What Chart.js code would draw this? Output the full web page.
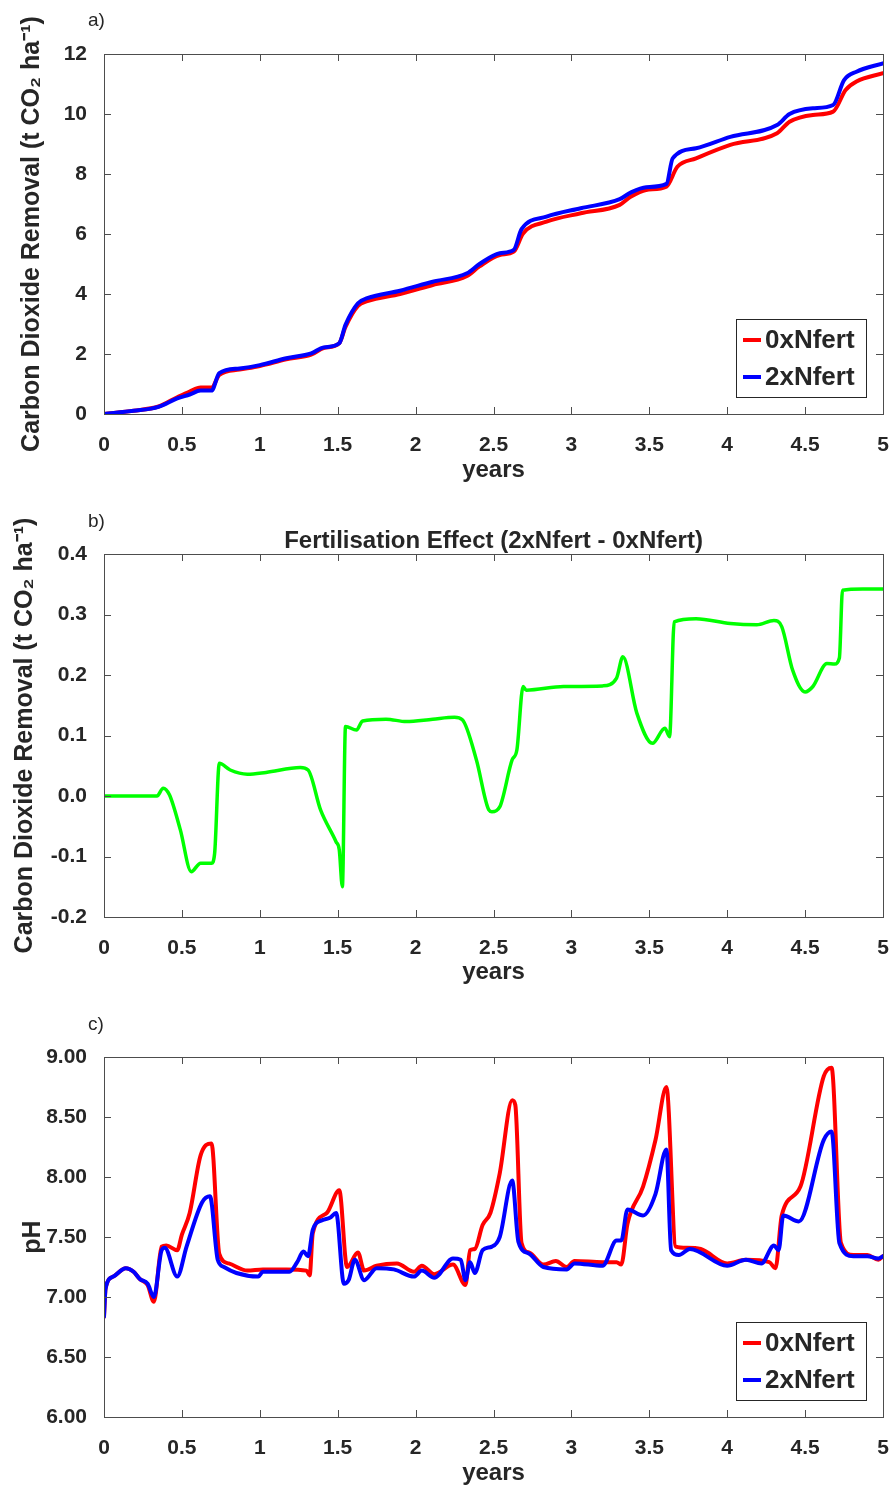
<!DOCTYPE html>
<html>
<head>
<meta charset="utf-8">
<script src="https://cdn.jsdelivr.net/npm/chart.js@4"></script>
<style>
  body { margin:0; background:#fff; }
  .panel { position:absolute; left:0; }
</style>
</head>
<body>
<canvas id="chartA" class="panel" width="893" height="495" style="top:0"></canvas>
<canvas id="chartB" class="panel" width="893" height="500" style="top:495px"></canvas>
<canvas id="chartC" class="panel" width="893" height="493" style="top:995px"></canvas>
<script>
// ---------- data ----------
const xTicks = [0, 0.5, 1, 1.5, 2, 2.5, 3, 3.5, 4, 4.5, 5];
const xTickLabels = ["0", "0.5", "1", "1.5", "2", "2.5", "3", "3.5", "4", "4.5", "5"];

// a) cumulative CO2 removal
const aYTicks = [0, 2, 4, 6, 8, 10, 12];
const aYLabels = ["0", "2", "4", "6", "8", "10", "12"];
const aRedX = [0, 0.19, 0.35, 0.47, 0.55, 0.62, 0.69, 0.74, 0.87, 1.0, 1.17, 1.33, 1.41, 1.51, 1.55, 1.63, 1.69, 1.9, 2.11, 2.33, 2.41, 2.54, 2.63, 2.69, 2.84, 3.06, 3.31, 3.38, 3.48, 3.61, 3.68, 3.8, 4.02, 4.32, 4.4, 4.55, 4.68, 4.76, 4.83, 5.0];
const aRedY = [0, 0.11, 0.25, 0.56, 0.75, 0.88, 0.88, 1.3, 1.48, 1.6, 1.82, 1.98, 2.2, 2.36, 2.9, 3.6, 3.76, 4.0, 4.3, 4.6, 4.92, 5.3, 5.41, 6.02, 6.41, 6.69, 6.97, 7.24, 7.47, 7.58, 8.24, 8.52, 8.97, 9.36, 9.74, 9.97, 10.08, 10.8, 11.08, 11.36];
const aBlueX = [0, 0.19, 0.35, 0.47, 0.55, 0.62, 0.69, 0.74, 0.87, 1.0, 1.17, 1.33, 1.41, 1.51, 1.55, 1.63, 1.69, 1.9, 2.11, 2.33, 2.41, 2.54, 2.63, 2.68, 2.84, 3.06, 3.31, 3.38, 3.48, 3.61, 3.65, 3.8, 4.02, 4.32, 4.4, 4.55, 4.68, 4.75, 4.83, 5.0];
const aBlueY = [0, 0.11, 0.24, 0.52, 0.65, 0.78, 0.78, 1.36, 1.52, 1.63, 1.86, 2.02, 2.22, 2.36, 2.97, 3.69, 3.86, 4.11, 4.41, 4.69, 5.0, 5.36, 5.47, 6.16, 6.58, 6.86, 7.16, 7.38, 7.56, 7.67, 8.52, 8.86, 9.24, 9.63, 10.0, 10.19, 10.3, 11.13, 11.41, 11.69];

// b) fertilisation effect
const bYTicks = [-0.2, -0.1, 0, 0.1, 0.2, 0.3, 0.4];
const bYLabels = ["-0.2", "-0.1", "0.0", "0.1", "0.2", "0.3", "0.4"];
const bDiffX = [0, 0.34, 0.38, 0.42, 0.49, 0.56, 0.62, 0.69, 0.71, 0.74, 0.81, 0.92, 1.04, 1.26, 1.31, 1.39, 1.49, 1.51, 1.53, 1.55, 1.62, 1.66, 1.81, 1.94, 2.11, 2.25, 2.30, 2.39, 2.47, 2.49, 2.54, 2.62, 2.65, 2.69, 2.71, 2.95, 3.20, 3.29, 3.33, 3.42, 3.52, 3.60, 3.63, 3.66, 3.80, 4.02, 4.19, 4.30, 4.35, 4.42, 4.50, 4.55, 4.64, 4.69, 4.72, 4.74, 4.87, 5.0];
const bDiffY = [0, 0, 0.013, 0.002, -0.056, -0.125, -0.111, -0.111, -0.095, 0.054, 0.043, 0.036, 0.039, 0.047, 0.043, -0.023, -0.076, -0.089, -0.150, 0.115, 0.109, 0.124, 0.127, 0.123, 0.127, 0.130, 0.126, 0.060, -0.023, -0.026, -0.018, 0.060, 0.076, 0.181, 0.175, 0.181, 0.182, 0.195, 0.230, 0.137, 0.087, 0.112, 0.098, 0.288, 0.293, 0.285, 0.283, 0.290, 0.280, 0.208, 0.172, 0.181, 0.219, 0.218, 0.228, 0.340, 0.342, 0.342];

// c) pH
const cYTicks = [6, 6.5, 7, 7.5, 8, 8.5, 9];
const cYLabels = ["6.00", "6.50", "7.00", "7.50", "8.00", "8.50", "9.00"];
const cRedX = [0, 0.01, 0.06, 0.14, 0.19, 0.23, 0.28, 0.32, 0.37, 0.40, 0.47, 0.50, 0.55, 0.62, 0.69, 0.74, 0.80, 0.92, 1.02, 1.17, 1.30, 1.32, 1.34, 1.43, 1.51, 1.56, 1.63, 1.67, 1.75, 1.88, 1.99, 2.04, 2.12, 2.24, 2.32, 2.35, 2.38, 2.43, 2.48, 2.54, 2.62, 2.64, 2.68, 2.73, 2.82, 2.90, 2.97, 3.02, 3.20, 3.29, 3.32, 3.36, 3.46, 3.54, 3.61, 3.67, 3.74, 3.83, 4.00, 4.12, 4.27, 4.31, 4.35, 4.47, 4.62, 4.67, 4.73, 4.81, 4.90, 4.97, 5.0];
const cRedY = [6.836, 7.07, 7.17, 7.24, 7.21, 7.15, 7.10, 6.96, 7.42, 7.43, 7.39, 7.52, 7.70, 8.18, 8.28, 7.36, 7.28, 7.22, 7.23, 7.23, 7.22, 7.18, 7.53, 7.70, 7.89, 7.25, 7.37, 7.22, 7.26, 7.28, 7.21, 7.26, 7.19, 7.27, 7.10, 7.39, 7.40, 7.60, 7.70, 8.03, 8.64, 8.60, 7.45, 7.37, 7.27, 7.30, 7.25, 7.30, 7.29, 7.29, 7.27, 7.61, 7.92, 8.31, 8.75, 7.42, 7.41, 7.40, 7.28, 7.31, 7.29, 7.24, 7.68, 7.92, 8.84, 8.91, 7.45, 7.35, 7.35, 7.31, 7.34];
const cBlueX = [0, 0.01, 0.06, 0.14, 0.19, 0.23, 0.28, 0.32, 0.37, 0.39, 0.47, 0.53, 0.63, 0.68, 0.73, 0.77, 0.85, 0.99, 1.02, 1.19, 1.24, 1.28, 1.31, 1.34, 1.40, 1.45, 1.49, 1.54, 1.57, 1.61, 1.67, 1.75, 1.86, 1.99, 2.04, 2.12, 2.24, 2.29, 2.32, 2.35, 2.38, 2.43, 2.49, 2.54, 2.62, 2.66, 2.73, 2.82, 2.97, 3.02, 3.20, 3.29, 3.32, 3.36, 3.46, 3.54, 3.61, 3.64, 3.69, 3.76, 4.00, 4.12, 4.22, 4.30, 4.33, 4.36, 4.46, 4.62, 4.67, 4.72, 4.81, 4.90, 4.97, 5.0];
const cBlueY = [6.836, 7.07, 7.17, 7.24, 7.21, 7.15, 7.11, 7.00, 7.39, 7.41, 7.17, 7.42, 7.79, 7.84, 7.31, 7.25, 7.20, 7.17, 7.21, 7.21, 7.29, 7.38, 7.34, 7.56, 7.64, 7.66, 7.70, 7.11, 7.14, 7.31, 7.14, 7.24, 7.23, 7.17, 7.22, 7.16, 7.32, 7.31, 7.14, 7.29, 7.20, 7.39, 7.42, 7.50, 7.97, 7.46, 7.36, 7.25, 7.23, 7.28, 7.26, 7.47, 7.47, 7.73, 7.68, 7.86, 8.23, 7.39, 7.35, 7.40, 7.26, 7.31, 7.28, 7.43, 7.39, 7.68, 7.63, 8.31, 8.38, 7.45, 7.34, 7.34, 7.32, 7.34];

const RED = "#ff0000", BLUE = "#0000ff", GREEN = "#00ff00";
const TEXT = "#262626", AXIS = "#4d4d4d";
const FONT = '"Liberation Sans", Arial, sans-serif';
const Y_TITLE = "Carbon Dioxide Removal (t CO\u2082 ha\u207B\u00B9)";

Chart.defaults.font.family = FONT;
Chart.defaults.color = TEXT;

function pts(xs, ys){
  return xs.map((x, i) => ({ x, y: ys[i] }));
}

// box, inward ticks on all four sides, panel letter, title, legend
const frame = {
  id: "frame",
  afterDatasetsDraw(chart, args, o){
    const { ctx, chartArea: a, scales: { x, y } } = chart;
    ctx.save();
    ctx.strokeStyle = AXIS;
    ctx.lineWidth = 1;
    ctx.strokeRect(Math.round(a.left) + 0.5, Math.round(a.top) + 0.5, Math.round(a.width), Math.round(a.height));
    ctx.beginPath();
    x.ticks.forEach(t => {
      const px = Math.round(x.getPixelForValue(t.value)) + 0.5;
      ctx.moveTo(px, a.bottom); ctx.lineTo(px, a.bottom - 7);
      ctx.moveTo(px, a.top); ctx.lineTo(px, a.top + 7);
    });
    y.ticks.forEach(t => {
      const py = Math.round(y.getPixelForValue(t.value)) + 0.5;
      ctx.moveTo(a.left, py); ctx.lineTo(a.left + 7, py);
      ctx.moveTo(a.right, py); ctx.lineTo(a.right - 7, py);
    });
    ctx.stroke();

    ctx.fillStyle = TEXT;
    ctx.textBaseline = "middle";
    ctx.textAlign = "left";
    ctx.font = `19px ${FONT}`;
    ctx.fillText(o.letter, 88, o.letterY);

    if(o.title){
      ctx.textAlign = "center";
      ctx.font = `bold 24px ${FONT}`;
      ctx.fillText(o.title, (a.left + a.right) / 2, o.titleY);
    }

    if(o.legend){
      const bw = 130, bh = 78;
      const bx = a.right - 17 - bw, by = a.bottom - 17 - bh;
      ctx.fillStyle = "#fff";
      ctx.fillRect(bx, by, bw, bh);
      ctx.strokeStyle = TEXT;
      ctx.lineWidth = 1;
      ctx.strokeRect(Math.round(bx) + 0.5, Math.round(by) + 0.5, bw, bh);
      chart.data.datasets.forEach((ds, i) => {
        const ly = by + 21 + i * 37;
        ctx.strokeStyle = ds.borderColor;
        ctx.lineWidth = 4;
        ctx.beginPath();
        ctx.moveTo(bx + 7, ly); ctx.lineTo(bx + 25, ly);
        ctx.stroke();
        ctx.fillStyle = TEXT;
        ctx.textAlign = "left";
        ctx.font = `bold 26px ${FONT}`;
        ctx.fillText(ds.label, bx + 29, ly + 1);
      });
    }
    ctx.restore();
  }
};

function makePanel(id, p){
  const canvas = document.getElementById(id);
  const H = canvas.height;
  return new Chart(canvas, {
    type: "line",
    data: { datasets: p.datasets },
    options: {
      responsive: false,
      animation: false,
      events: [],
      layout: { padding: { top: p.plotTop, right: 10, left: 0, bottom: 0 } },
      elements: { point: { radius: 0 }, line: { cubicInterpolationMode: "monotone", borderCapStyle: "round", borderJoinStyle: "round" } },
      plugins: {
        legend: { display: false },
        tooltip: { enabled: false },
        frame: { letter: p.letter, letterY: p.letterY, title: p.title, titleY: p.titleY, legend: p.legend }
      },
      scales: {
        x: {
          type: "linear", min: 0, max: 5,
          afterBuildTicks: s => { s.ticks = xTicks.map(v => ({ value: v })); },
          afterFit: s => { s.height = H - p.plotBottom; s.paddingLeft = 0; s.paddingRight = 0; },
          grid: { display: false }, border: { display: false },
          ticks: { autoSkip: false, maxRotation: 0, padding: 11, color: TEXT, font: { size: 21, weight: "bold" }, callback: (v, i) => xTickLabels[i] },
          title: { display: true, text: "years", color: TEXT, font: { size: 24, weight: "bold" }, padding: { top: 0, bottom: p.xTitlePad } }
        },
        y: {
          min: p.yTicks[0], max: p.yTicks[p.yTicks.length - 1],
          afterBuildTicks: s => { s.ticks = p.yTicks.map(v => ({ value: v })); },
          afterFit: s => { s.width = 104; s.paddingTop = 0; s.paddingBottom = 0; },
          grid: { display: false }, border: { display: false },
          ticks: { autoSkip: false, padding: 9, color: TEXT, font: { size: 21, weight: "bold" }, callback: (v, i) => p.yLabels[i] },
          title: { display: true, text: p.yTitle, color: TEXT, font: { size: p.yTitleSize, weight: "bold" }, padding: { top: p.yTitlePad, bottom: 0 } }
        }
      }
    },
    plugins: [frame]
  });
}

makePanel("chartA", {
  plotTop: 54, plotBottom: 414, letter: "a)", letterY: 21, legend: true,
  yTicks: aYTicks, yLabels: aYLabels, yTitle: Y_TITLE, yTitleSize: 25, yTitlePad: 17, xTitlePad: 10,
  datasets: [
    { label: "0xNfert", data: pts(aRedX, aRedY), borderColor: RED, borderWidth: 4, order: 1 },
    { label: "2xNfert", data: pts(aBlueX, aBlueY), borderColor: BLUE, borderWidth: 4, order: 0 }
  ]
});

makePanel("chartB", {
  plotTop: 59, plotBottom: 422, letter: "b)", letterY: 27, title: "Fertilisation Effect (2xNfert - 0xNfert)", titleY: 46, legend: false,
  yTicks: bYTicks, yLabels: bYLabels, yTitle: Y_TITLE, yTitleSize: 25, yTitlePad: 10, xTitlePad: 8,
  datasets: [
    { label: "2xNfert - 0xNfert", data: pts(bDiffX, bDiffY), borderColor: GREEN, borderWidth: 3.5 }
  ]
});

makePanel("chartC", {
  plotTop: 62, plotBottom: 422, letter: "c)", letterY: 30, legend: true,
  yTicks: cYTicks, yLabels: cYLabels, yTitle: "pH", yTitleSize: 25, yTitlePad: 18, xTitlePad: 0,
  datasets: [
    { label: "0xNfert", data: pts(cRedX, cRedY), borderColor: RED, borderWidth: 4, order: 1 },
    { label: "2xNfert", data: pts(cBlueX, cBlueY), borderColor: BLUE, borderWidth: 4, order: 0 }
  ]
});
</script>
</body>
</html>
